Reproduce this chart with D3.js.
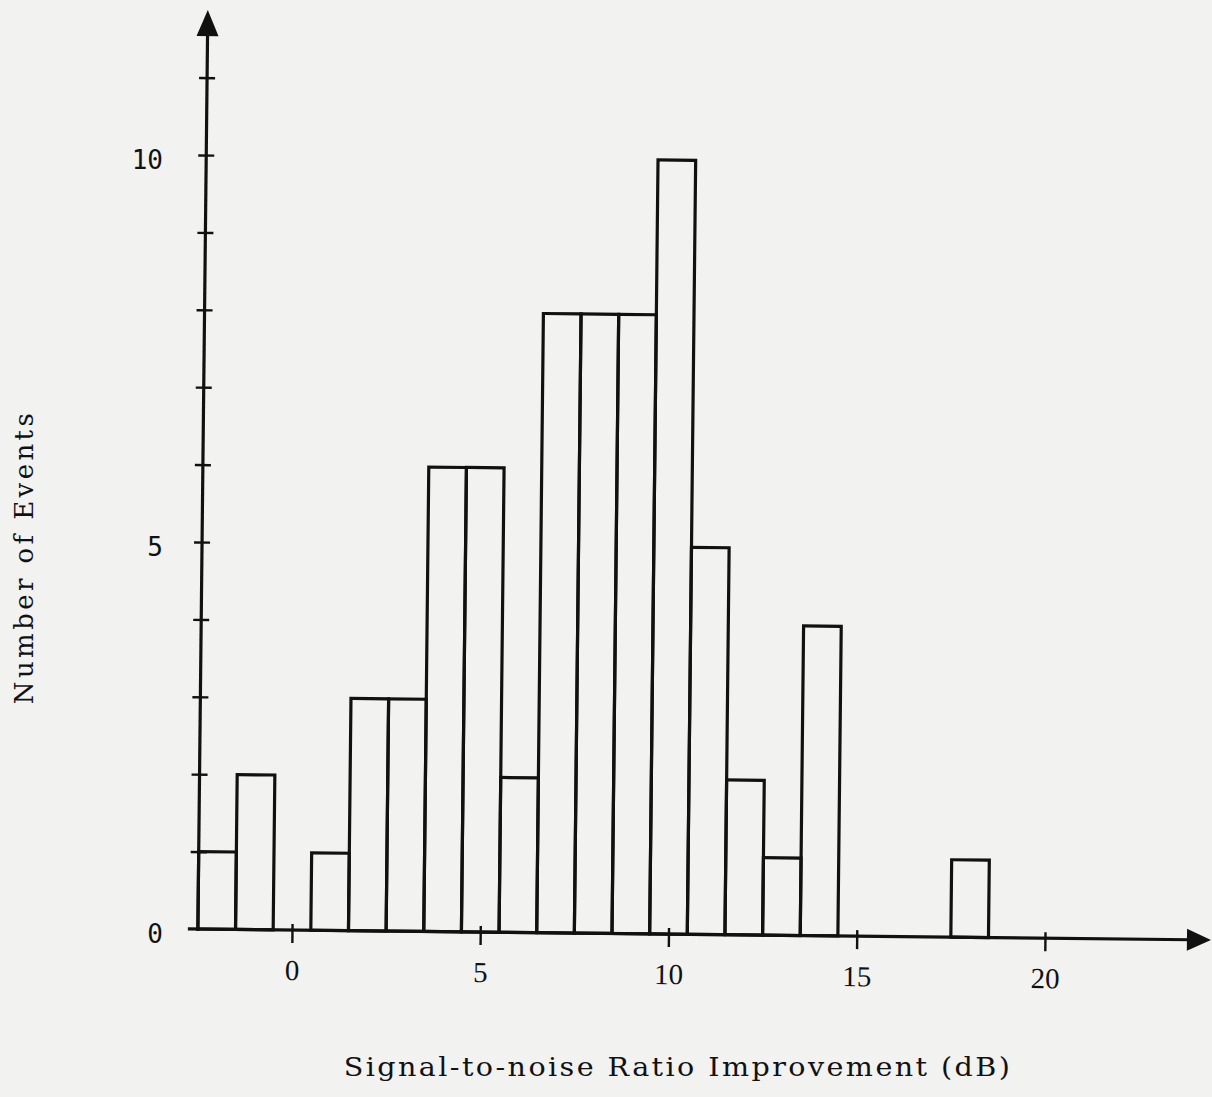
<!DOCTYPE html>
<html>
<head>
<meta charset="utf-8">
<script src="https://cdn.jsdelivr.net/npm/d3@7"></script>
<style>
  html, body { margin: 0; padding: 0; background: #f2f2f1; }
  svg { display: block; }
</style>
</head>
<body>
<svg id="chart" width="1212" height="1097"></svg>
<script>
// Histogram: bin centres (dB) and event counts
const binCentres = [-2, -1, 0, 1, 2, 3, 4, 5, 6, 7, 8, 9, 10, 11, 12, 13, 14, 15, 16, 17, 18];
const eventCounts = [1, 2, 0, 1, 3, 3, 6, 6, 2, 8, 8, 8, 10, 5, 2, 1, 4, 0, 0, 0, 1];
const xTickValues = [0, 5, 10, 15, 20];
const yTickLabels = [0, 5, 10];
const yTickMarks = d3.range(1, 12);
const xTitle = "Signal-to-noise Ratio Improvement (dB)";
const yTitle = "Number of Events";

const svg = d3.select("#chart");
const W = 1212, H = 1097;

svg.append("rect").attr("width", W).attr("height", H).attr("fill", "#f2f2f1");

const x = d3.scaleLinear().domain([0, 20]).range([292, 1045]);
const y = d3.scaleLinear().domain([0, 10]).range([929, 155]);
const xMin = -2.5, xMax = x.invert(1211), yMax = y.invert(10);

const ink = "#111";
const ox = x(xMin), oy = y(0);

// the whole drawing sits slightly skewed on the page
const g = svg.append("g").attr("transform", `rotate(0.62, ${ox}, ${oy})`);

// bars: open outlines, one dB wide
const bars = binCentres.map((c, i) => ({ c, v: eventCounts[i] })).filter(d => d.v > 0);
g.append("g").selectAll("rect").data(bars).join("rect")
  .attr("x", d => x(d.c - 0.5))
  .attr("y", d => y(d.v))
  .attr("width", d => x(d.c + 0.5) - x(d.c - 0.5))
  .attr("height", d => y(0) - y(d.v))
  .attr("fill", "none")
  .attr("stroke", ink)
  .attr("stroke-width", 3.2);

// x axis line with arrow head
g.append("line")
  .attr("x1", ox - 10).attr("x2", x(xMax) - 20)
  .attr("y1", oy).attr("y2", oy)
  .attr("stroke", ink).attr("stroke-width", 3.2);
g.append("path")
  .attr("d", `M${x(xMax)},${oy} L${x(xMax) - 24},${oy - 11} L${x(xMax) - 24},${oy + 11} Z`)
  .attr("fill", ink);

// y axis line with arrow head
g.append("line")
  .attr("x1", ox).attr("x2", ox)
  .attr("y1", oy + 2).attr("y2", y(yMax) + 20)
  .attr("stroke", ink).attr("stroke-width", 3.2);
g.append("path")
  .attr("d", `M${ox},${y(yMax)} L${ox - 11},${y(yMax) + 26} L${ox + 11},${y(yMax) + 26} Z`)
  .attr("fill", ink);

// x ticks and labels via d3 axis
const xAxis = d3.axisBottom(x).tickValues(xTickValues).tickSize(13).tickFormat(d3.format("d"));
const xg = g.append("g").attr("transform", `translate(0,${oy})`).call(xAxis);
xg.select(".domain").remove();
xg.selectAll(".tick line").attr("y1", -6).attr("stroke", ink).attr("stroke-width", 2.4);
xg.selectAll(".tick text")
  .attr("y", 50)
  .attr("dy", null)
  .attr("fill", ink)
  .attr("font-family", "'Liberation Serif', serif")
  .attr("font-size", 29);

// y tick marks crossing the axis
const yAxis = d3.axisLeft(y).tickValues(yTickMarks).tickSize(8).tickFormat("");
const yg = g.append("g").attr("transform", `translate(${ox},0)`).call(yAxis);
yg.select(".domain").remove();
yg.selectAll(".tick line").attr("x1", 8).attr("stroke", ink).attr("stroke-width", 2.4);

// y tick labels (typed upright beside the axis)
svg.append("g").selectAll("text").data(yTickLabels).join("text")
  .attr("x", 163)
  .attr("y", d => y(d) + 14)
  .attr("text-anchor", "end")
  .attr("fill", ink)
  .attr("font-family", "'DejaVu Sans Mono', monospace")
  .attr("font-size", 26)
  .text(d => d);

// axis titles
svg.append("text")
  .attr("transform", "translate(678,1076) scale(1.1,1)")
  .attr("text-anchor", "middle")
  .attr("fill", ink)
  .attr("font-family", "'DejaVu Serif', serif")
  .attr("font-size", 26)
  .attr("letter-spacing", 2.2)
  .text(xTitle);

svg.append("text")
  .attr("transform", "translate(33,557) rotate(-90)")
  .attr("text-anchor", "middle")
  .attr("fill", ink)
  .attr("font-family", "'DejaVu Serif', serif")
  .attr("font-size", 26)
  .attr("letter-spacing", 3.4)
  .text(yTitle);
</script>
</body>
</html>
